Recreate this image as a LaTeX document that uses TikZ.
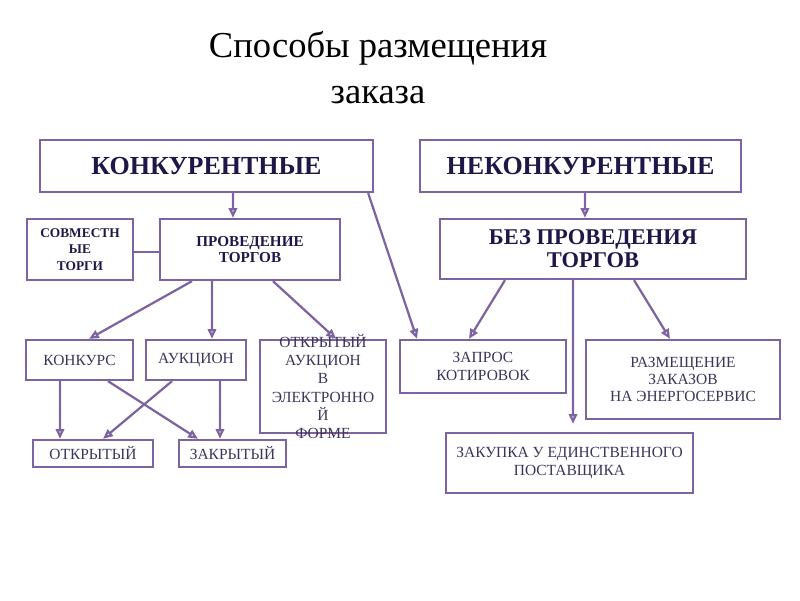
\documentclass[tikz,border=0pt]{standalone}
\usepackage{fontspec}
\setmainfont{Liberation Serif}
\usetikzlibrary{arrows.meta}
\definecolor{khung}{RGB}{125,100,160}
\definecolor{chudam}{RGB}{32,22,72}
\definecolor{chunhat}{RGB}{62,52,90}
\tikzset{
	hop/.style={draw=khung,line width=1.6pt,align=center,inner sep=1pt},
	hopto/.style={hop,text=chudam,font=\bfseries\fontsize{18.5}{22}\selectfont},
	hopvua/.style={hop,text=chudam,font=\bfseries\fontsize{10.8}{12}\selectfont},
	hopnho/.style={hop,text=chunhat,font=\fontsize{11}{12.4}\selectfont},
	muiten/.style={draw=khung,line width=1.6pt,-{Triangle[open,length=7pt,width=6pt]}},
	noi/.style={draw=khung,line width=1.6pt}
}
\begin{document}
	\begin{tikzpicture}[x=0.025cm,y=-0.025cm]
		\useasboundingbox (0,0) rectangle (800,600);
		%	tiêu đề
		\node[font=\fontsize{26}{33}\selectfont,align=center] (tieude) at (378,67.5) {Способы размещения\\заказа};
		%	hàng 1
		\node[hopto,minimum width=8.325cm,minimum height=1.3cm] (konk) at (206.5,166) {КОНКУРЕНТНЫЕ};
		\node[hopto,minimum width=8.025cm,minimum height=1.3cm] (nekonk) at (580.5,166) {НЕКОНКУРЕНТНЫЕ};
		%	hàng 2
		\node[hopvua,font=\bfseries\fontsize{9.5}{11.5}\selectfont,minimum width=2.65cm,minimum height=1.525cm] (sovm) at (80,249.5) {СОВМЕСТН\\ЫЕ\\ТОРГИ};
		\node[hopvua,minimum width=4.5cm,minimum height=1.525cm] (provt) at (250,249.5) {ПРОВЕДЕНИЕ\\ТОРГОВ};
		\node[hopvua,font=\bfseries\fontsize{16}{16.5}\selectfont,minimum width=7.65cm,minimum height=1.5cm] (bezt) at (593,249) {БЕЗ ПРОВЕДЕНИЯ\\ТОРГОВ};
		%	hàng 3
		\node[hopnho,minimum width=2.675cm,minimum height=1cm] (konkurs) at (79.5,360) {КОНКУРС};
		\node[hopnho,minimum width=2.5cm,minimum height=1cm] (aukc) at (196,360) {АУКЦИОН};
		\node[hop,minimum width=3.15cm,minimum height=2.325cm] (oaef) at (323,386.5) {};
		\node[hopnho,draw=none,font=\fontsize{11}{13}\selectfont] at (oaef) {ОТКРЫТЫЙ\\АУКЦИОН\\В\\ЭЛЕКТРОННО\\Й\\ФОРМЕ};
		\node[hopnho,minimum width=4.15cm,minimum height=1.325cm] (zapros) at (483,366.5) {ЗАПРОС\\КОТИРОВОК};
		\node[hopnho,minimum width=4.85cm,minimum height=1.975cm] (razm) at (683,379.5) {РАЗМЕЩЕНИЕ\\ЗАКАЗОВ\\НА ЭНЕРГОСЕРВИС};
		%	hàng 4
		\node[hopnho,minimum width=3cm,minimum height=0.675cm] (otkr) at (93,453.5) {ОТКРЫТЫЙ};
		\node[hopnho,minimum width=2.675cm,minimum height=0.675cm] (zakr) at (232.5,453.5) {ЗАКРЫТЫЙ};
		\node[hopnho,minimum width=6.175cm,minimum height=1.5cm] (zakup) at (569.5,463) {ЗАКУПКА У ЕДИНСТВЕННОГО\\ПОСТАВЩИКА};
		
		%	mũi tên
		\draw[muiten] ([xshift=0.66cm]konk.south) -- ([xshift=-0.425cm]provt.north);
		\draw[muiten] ([xshift=0.11cm]nekonk.south) -- ([xshift=-0.2cm]bezt.north);
		\draw[noi] ([yshift=-0.06cm]sovm.east) -- ([yshift=-0.06cm]provt.west);
		\draw[muiten] ([xshift=-1.45cm]provt.south) -- ([xshift=0.2375cm]konkurs.north);
		\draw[muiten] ([xshift=-0.95cm]provt.south) -- ([xshift=0.4cm]aukc.north);
		\draw[muiten] ([xshift=0.575cm]provt.south) -- ([xshift=0.325cm]oaef.north);
		\draw[muiten] ([xshift=-0.15cm]konk.south east) -- ([xshift=-1.65cm]zapros.north);
		\draw[muiten] ([xshift=-2.2cm]bezt.south) -- ([xshift=-0.35cm]zapros.north);
		\draw[muiten] ([xshift=-0.5cm]bezt.south) -- ([xshift=0.0875cm,yshift=0.2cm]zakup.north);
		\draw[muiten] ([xshift=1.025cm]bezt.south) -- ([xshift=-0.325cm]razm.north);
		\draw[muiten] ([xshift=-0.4875cm]konkurs.south) -- ([xshift=-0.825cm]otkr.north);
		\draw[muiten] ([xshift=0.7125cm]konkurs.south) -- ([xshift=-0.8625cm]zakr.north);
		\draw[muiten] ([xshift=-0.6cm]aukc.south) -- ([xshift=0.25cm]otkr.north);
		\draw[muiten] ([xshift=0.6cm]aukc.south) -- ([xshift=-0.3125cm]zakr.north);
	\end{tikzpicture}
\end{document}
